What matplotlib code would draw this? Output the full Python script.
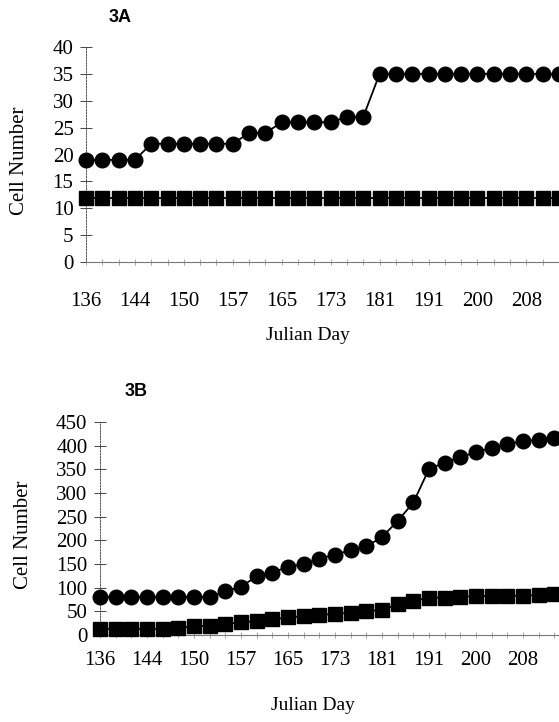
import matplotlib
matplotlib.use("Agg")
import matplotlib.pyplot as plt

# Julian day labels (every third sampling point is labelled)
day_labels = ["136", "144", "150", "157", "165", "173", "181", "191", "200", "208"]

# panel 3A
a_circles = [19, 19, 19, 19, 22, 22, 22, 22, 22, 22, 24, 24, 26, 26, 26, 26, 27, 27,
             35, 35, 35, 35, 35, 35, 35, 35, 35, 35, 35, 35]
a_squares = [12] * 30

# panel 3B
b_circles = [80, 80, 80, 80, 80, 80, 80, 80, 92, 102, 124, 132, 144, 150, 161, 170,
             179, 187, 207, 241, 280, 351, 364, 376, 386, 396, 404, 409, 413, 417]
b_squares = [13, 13, 13, 13, 13, 15, 18, 20, 23, 27, 29, 33, 37, 40, 42, 45,
             47, 50, 53, 65, 72, 79, 79, 81, 82, 82, 83, 83, 84, 86]

W, H = 559, 722
fig = plt.figure(figsize=(W / 100, H / 100), dpi=100)

serif = ["Liberation Serif", "DejaVu Serif"]
sans = ["Liberation Sans", "DejaVu Sans"]


def px_axes(x0, x1, y_top, y_bot):
    return fig.add_axes([x0 / W, 1 - y_bot / H, (x1 - x0) / W, (y_bot - y_top) / H])


def panel(ax, circles, squares, ymax, ystep, xmax, lab_pad):
    idx = list(range(len(circles)))
    ax.plot(idx, circles, color="black", lw=1.3, marker="o", ms=10.5, clip_on=False, zorder=3)
    ax.plot(idx, squares, color="black", lw=1.3, marker="s", ms=9.8, clip_on=False, zorder=3)
    ax.set_xlim(0, xmax)
    ax.set_ylim(0, ymax)
    ax.set_yticks(range(0, ymax + 1, ystep))
    ax.set_xticks(range(0, 30, 3))
    ax.set_xticklabels(day_labels)
    ax.set_xticks(range(30), minor=True)
    for s in ["top", "right"]:
        ax.spines[s].set_visible(False)
    ax.spines["left"].set_linestyle((0, (1.5, 1.5)))
    ax.spines["left"].set_linewidth(0.7)
    ax.spines["left"].set_color("#555555")
    ax.spines["bottom"].set_linewidth(0.8)
    ax.spines["bottom"].set_color("#777777")
    ax.tick_params(axis="y", direction="inout", length=8, width=0.7, color="#444444",
                   pad=5, labelsize=15)
    ax.tick_params(axis="x", which="both", direction="inout", length=5, width=0.6,
                   color="#999999", pad=lab_pad, labelsize=15)
    for t in ax.get_xticklabels() + ax.get_yticklabels():
        t.set_fontfamily(serif)


ax1 = px_axes(86, 559, 47, 262)
panel(ax1, a_circles, a_squares, 40, 5, (559 - 86) / 16.33, 19)
ax2 = px_axes(100, 559, 422, 635)
panel(ax2, b_circles, b_squares, 450, 50, (559 - 100) / 15.67, 9)

fig.text(120 / W, 1 - 17 / H, "3A", fontsize=13, fontweight="bold", family=sans,
         ha="center", va="center")
fig.text(136 / W, 1 - 391 / H, "3B", fontsize=13, fontweight="bold", family=sans,
         ha="center", va="center")
fig.text(20 / W, 1 - 161 / H, "Cell Number", rotation=90, fontsize=15, family=serif,
         ha="center", va="center")
fig.text(24 / W, 1 - 535 / H, "Cell Number", rotation=90, fontsize=15, family=serif,
         ha="center", va="center")
fig.text(308 / W, 1 - 336 / H, "Julian Day", fontsize=14, family=serif,
         ha="center", va="center")
fig.text(313 / W, 1 - 706 / H, "Julian Day", fontsize=14, family=serif,
         ha="center", va="center")

fig.savefig("out.png", dpi=100)
